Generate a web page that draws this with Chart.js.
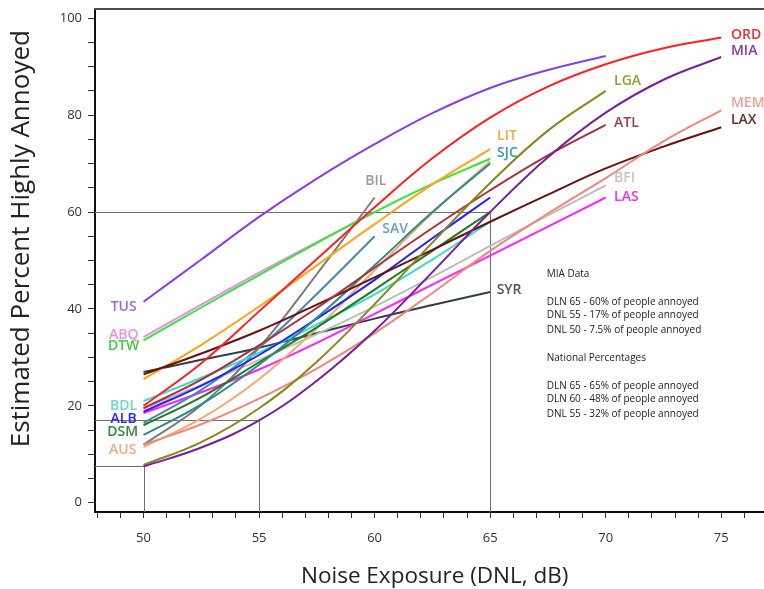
<!DOCTYPE html>
<html>
<head>
<meta charset="utf-8">
<title>Estimated Percent Highly Annoyed vs Noise Exposure</title>
<script src="https://cdn.jsdelivr.net/npm/chart.js@4/dist/chart.umd.min.js"></script>
<style>
  html, body { margin: 0; padding: 0; background: #ffffff; }
  #wrap { width: 764px; height: 589px; }
</style>
</head>
<body>
<div id="wrap"><canvas id="chart" width="764" height="589"></canvas></div>
<script>
// Noise levels (DNL, dB) at which each airport curve is sampled
const dnlLevels = [50, 52.5, 55, 57.5, 60, 62.5, 65, 67.5, 70, 72.5, 75];

// Estimated percent highly annoyed per airport (null = curve not drawn there)
const annoyTUS = [41.5, 50.2, 59, 66.9, 74, 80.4, 85.6, 89.3, 92.2, null, null];
const annoyORD = [20, 28.8, 39.5, 50.3, 61, 71.1, 79.5, 85.9, 90.5, 93.8, 96];
const annoyMIA = [7.5, 11.4, 17, 25.2, 35.5, 47.6, 60, 71.3, 80.5, 87.3, 92];
const annoyLGA = [7.8, 12.5, 19.5, 29.1, 41, 53.7, 66, 76.8, 85, null, null];
const annoyATL = [19.5, 25.4, 32.5, 40.2, 48.5, 56.7, 64.5, 71.7, 78, null, null];
const annoyMEM = [12, 16.2, 21.5, 27.7, 35, 43.3, 52, 59.7, 67, 74.6, 81];
const annoyLAX = [26.5, 30.8, 35.5, 40.9, 46.5, 52.2, 58, 63.6, 69, 73.5, 77.5];
const annoyBFI = [19.5, 24.3, 29.5, 34.8, 40.5, 46.6, 53, 59.3, 65.5, null, null];
const annoyLAS = [18.5, 22.8, 27.5, 33, 39, 45, 51, 57, 63, null, null];
const annoyLIT = [25.5, 32.6, 40.5, 49, 57.5, 65.7, 73, null, null, null, null];
const annoySJC = [14, 20.3, 28.5, 38.2, 49, 60, 70, null, null, null, null];
const annoyAUS = [11.5, 17.4, 25.5, 36, 48, 59.8, 70.5, null, null, null, null];
const annoyABQ = [34.2, 40.9, 47.5, 53.8, 60, null, null, null, null, null, null];
const annoyDTW = [33.5, 40.3, 47, 53.6, 60, 65.8, 71, null, null, null, null];
const annoySAV = [16.5, 23.3, 32, 43.1, 55, null, null, null, null, null, null];
const annoyBIL = [12, 20.2, 32, 47.2, 63, null, null, null, null, null, null];
const annoySYR = [27, 29.5, 32, 35, 38, 40.8, 43.5, null, null, null, null];
const annoyBDL = [21, 25.8, 31, 36.8, 43, 50.2, 58, null, null, null, null];
const annoyALB = [18.8, 24.2, 30.5, 38, 46, 54.6, 63, null, null, null, null];
const annoyDSM = [16, 21.8, 29, 36.2, 44, 52, 60, null, null, null, null];

// MIA reference points quoted in the note box: [DNL, percent]
const miaRefDnl = [65, 55, 50];
const miaRefPct = [60, 17, 7.5];

// Axis tick values
const xTickValues = [48, 49, 50, 51, 52, 53, 54, 55, 56, 57, 58, 59, 60, 61, 62, 63, 64, 65, 66, 67, 68, 69, 70, 71, 72, 73, 74, 75, 76];
const xTickLabels = [50, 55, 60, 65, 70, 75];
const yTickValues = [0, 5, 10, 15, 20, 25, 30, 35, 40, 45, 50, 55, 60, 65, 70, 75, 80, 85, 90, 95, 100];
const yTickLabels = [0, 20, 40, 60, 80, 100];

// Axis titles
const xTitle = 'Noise Exposure (DNL, dB)';
const yTitle = 'Estimated Percent Highly Annoyed';

// Note box text
const noteLines = [
  'MIA Data',
  '',
  'DLN 65 - 60% of people annoyed',
  'DNL 55 - 17% of people annoyed',
  'DNL 50 - 7.5% of people annoyed',
  '',
  'National Percentages',
  '',
  'DLN 65 - 65% of people annoyed',
  'DLN 60 - 48% of people annoyed',
  'DNL 55 - 32% of people annoyed'
];

const seriesValues = {
  TUS: annoyTUS, ORD: annoyORD, MIA: annoyMIA, LGA: annoyLGA, ATL: annoyATL,
  MEM: annoyMEM, LAX: annoyLAX, BFI: annoyBFI, LAS: annoyLAS, LIT: annoyLIT,
  SJC: annoySJC, AUS: annoyAUS, ABQ: annoyABQ, DTW: annoyDTW, SAV: annoySAV,
  BIL: annoyBIL, SYR: annoySYR, BDL: annoyBDL, ALB: annoyALB, DSM: annoyDSM
};

// Line colour and label colour for each airport
const styles = {
  TUS: ['#8a3de6', '#9a6ad6'],
  ORD: ['#ff1f24', '#ee3038'],
  MIA: ['#761f9e', '#8a3aa8'],
  LGA: ['#87871c', '#9a9a40'],
  ATL: ['#a8323e', '#a63a48'],
  MEM: ['#f2867e', '#f39e96'],
  LAX: ['#6a1010', '#6b2b2b'],
  BFI: ['#bdbdbd', '#c4c4c4'],
  LAS: ['#ff22ff', '#ec34e8'],
  LIT: ['#ffa31a', '#f0b040'],
  SJC: ['#2b8b8b', '#3d9aa0'],
  AUS: ['#f5a872', '#f3ab86'],
  ABQ: ['#ee88ee', '#e88fe8'],
  DTW: ['#33e833', '#3ecf3e'],
  SAV: ['#4a86b0', '#6a9cc2'],
  BIL: ['#7c7c7c', '#9a9a9a'],
  SYR: ['#2f403a', '#4a5656'],
  BDL: ['#3fd9d0', '#6fd6d6'],
  ALB: ['#1f1fff', '#2a2af0'],
  DSM: ['#1e7b1e', '#2f8a3a']
};

// Where each airport name is written: [DNL, percent, text alignment]
const labelSpots = {
  TUS: [49.14, 40.5, 'center'], ABQ: [49.14, 34.6, 'center'], DTW: [49.14, 32.3, 'center'],
  BDL: [49.14, 19.9, 'center'], ALB: [49.14, 17.2, 'center'], DSM: [49.1, 14.6, 'center'],
  AUS: [49.1, 10.9, 'center'],
  BIL: [60.05, 66.3, 'center'], SAV: [60.33, 56.4, 'left'], SYR: [65.28, 43.9, 'left'],
  LIT: [65.3, 75.7, 'left'], SJC: [65.3, 72.1, 'left'],
  LGA: [70.36, 87.0, 'left'], ATL: [70.36, 78.3, 'left'], BFI: [70.36, 67.1, 'left'], LAS: [70.36, 63.2, 'left'],
  ORD: [75.42, 96.5, 'left'], MIA: [75.42, 93.2, 'left'], MEM: [75.42, 82.5, 'left'], LAX: [75.42, 79.0, 'left']
};

const drawOrder = ['TUS', 'ORD', 'MIA', 'LGA', 'ATL', 'MEM', 'LAX', 'LIT', 'DTW', 'SJC', 'ALB', 'DSM',
                   'BDL', 'BIL', 'SAV', 'AUS', 'LAS', 'BFI', 'SYR', 'ABQ'];

const FONT = "'Open Sans', 'DejaVu Sans', sans-serif";

const datasets = drawOrder.map(code => ({
  label: code,
  data: dnlLevels
    .map((x, i) => ({ x: x, y: seriesValues[code][i] }))
    .filter(p => p.y !== null),
  borderColor: styles[code][0],
  backgroundColor: styles[code][0],
  borderWidth: 2,
  pointRadius: 0,
  fill: false,
  tension: 0.4
}));

// Reference guides, axis frame, titles, curve names and the note box
const decorations = {
  id: 'decorations',
  beforeDatasetsDraw(chart) {
    const { ctx, chartArea, scales: { x, y } } = chart;
    ctx.save();
    ctx.strokeStyle = '#6e6e6e';
    ctx.lineWidth = 1;
    miaRefDnl.forEach((d, i) => {
      const px = Math.round(x.getPixelForValue(d)) + 0.5;
      const py = Math.round(y.getPixelForValue(miaRefPct[i])) + 0.5;
      ctx.beginPath();
      ctx.moveTo(chartArea.left, py);
      ctx.lineTo(px, py);
      ctx.lineTo(px, chartArea.bottom);
      ctx.stroke();
    });
    ctx.restore();
  },
  afterDatasetsDraw(chart) {
    const { ctx, chartArea, scales: { x, y } } = chart;
    ctx.save();
    // top frame line
    ctx.strokeStyle = '#4d4d4d';
    ctx.lineWidth = 2;
    ctx.beginPath();
    ctx.moveTo(chartArea.left - 1, chartArea.top);
    ctx.lineTo(chartArea.right, chartArea.top);
    ctx.stroke();

    // axis titles
    ctx.fillStyle = '#222222';
    ctx.textAlign = 'center';
    ctx.textBaseline = 'middle';
    ctx.font = '22.5px ' + FONT;
    ctx.fillText(xTitle, x.getPixelForValue(62.6), chart.height - 12);
    ctx.save();
    ctx.translate(22, y.getPixelForValue(54.5));
    ctx.rotate(-Math.PI / 2);
    ctx.font = '26px ' + FONT;
    ctx.fillText(yTitle, 0, 0);
    ctx.restore();

    // airport names
    ctx.font = '600 14px ' + FONT;
    ctx.textBaseline = 'middle';
    Object.keys(labelSpots).forEach(code => {
      const [d, p, align] = labelSpots[code];
      ctx.fillStyle = styles[code][1];
      ctx.textAlign = align;
      ctx.fillText(code, x.getPixelForValue(d), y.getPixelForValue(p));
    });

    // note box
    ctx.font = '10px ' + FONT;
    ctx.fillStyle = '#222222';
    ctx.textAlign = 'left';
    const nx = x.getPixelForValue(67.45);
    let ny = y.getPixelForValue(47.5) + 1.5;
    const gaps = [0, 14, 14, 13, 15, 14, 14, 14, 14, 13.5, 15];
    noteLines.forEach((t, i) => {
      ny += gaps[i];
      if (t) ctx.fillText(t, nx, ny);
    });
    ctx.restore();
  }
};

new Chart(document.getElementById('chart'), {
  type: 'line',
  data: { datasets },
  options: {
    responsive: false,
    animation: false,
    devicePixelRatio: 1,
    layout: { padding: { top: 9, left: 0, right: 0, bottom: 0 } },
    plugins: {
      legend: { display: false },
      tooltip: { enabled: false }
    },
    scales: {
      x: {
        type: 'linear',
        min: 47.9,
        max: 76.85,
        afterBuildTicks(scale) {
          scale.ticks = xTickValues.map(v => ({ value: v }));
        },
        afterFit(scale) {
          scale.height = 77;
          scale.paddingLeft = 0;
          scale.paddingRight = 0;
        },
        ticks: {
          autoSkip: false,
          maxRotation: 0,
          padding: 12,
          color: '#333333',
          font: { family: FONT, size: 13 },
          callback: v => (xTickLabels.includes(v) ? String(v) : '')
        },
        grid: {
          drawOnChartArea: false,
          drawTicks: true,
          tickLength: 6,
          tickColor: '#333333',
          tickWidth: 1
        },
        border: { color: '#111111', width: 2 },
        title: { display: false }
      },
      y: {
        type: 'linear',
        min: -1.9,
        max: 101.9,
        afterBuildTicks(scale) {
          scale.ticks = yTickValues.map(v => ({ value: v }));
        },
        afterFit(scale) {
          scale.width = 95;
          scale.paddingTop = 0;
          scale.paddingBottom = 0;
        },
        ticks: {
          autoSkip: false,
          padding: 6,
          color: '#333333',
          font: { family: FONT, size: 13 },
          callback: v => (yTickLabels.includes(v) ? String(v) : '')
        },
        grid: {
          drawOnChartArea: false,
          drawTicks: true,
          tickLength: 7,
          tickColor: '#333333',
          tickWidth: 1
        },
        border: { color: '#111111', width: 2 },
        title: { display: false }
      }
    }
  },
  plugins: [decorations]
});
</script>
</body>
</html>
